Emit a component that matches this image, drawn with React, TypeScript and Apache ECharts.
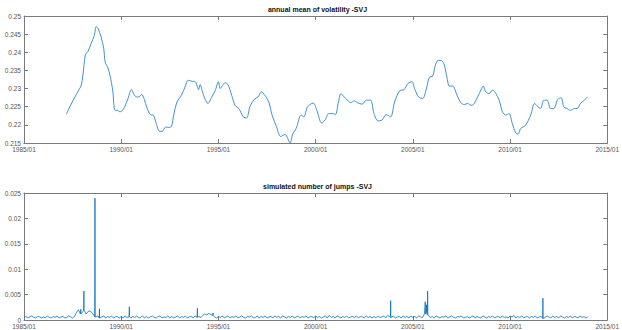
import React, { useEffect, useRef } from "react";
import * as echarts from "echarts";

// ---- annual mean of volatility (top panel) ----
const volYears = [
  1987.18, 1987.35, 1987.69, 1987.94, 1988.03, 1988.16, 1988.28, 1988.45, 1988.62, 1988.71,
  1988.81, 1988.96, 1989.1, 1989.18, 1989.3, 1989.42, 1989.56, 1989.68, 1989.81, 1989.93,
  1990.1, 1990.32, 1990.53, 1990.66, 1990.78, 1990.92, 1991.05, 1991.17, 1991.34, 1991.51,
  1991.65, 1991.8, 1991.97, 1992.11, 1992.28, 1992.45, 1992.59, 1992.7, 1992.87, 1993.1,
  1993.3, 1993.44, 1993.64, 1993.81, 1993.98, 1994.06, 1994.18, 1994.32, 1994.46, 1994.66,
  1994.83, 1995.0, 1995.09, 1995.2, 1995.34, 1995.48, 1995.68, 1995.85, 1996.05, 1996.28,
  1996.45, 1996.62, 1996.84, 1997.04, 1997.21, 1997.38, 1997.59, 1997.76, 1997.98, 1998.2,
  1998.44, 1998.57, 1998.69, 1998.83, 1999.0, 1999.25, 1999.39, 1999.59, 1999.88, 2000.05,
  2000.31, 2000.48, 2000.68, 2000.9, 2001.02, 2001.16, 2001.3, 2001.47, 2001.64, 2001.81,
  2001.98, 2002.15, 2002.39, 2002.61, 2002.83, 2003.0, 2003.21, 2003.41, 2003.63, 2003.86,
  2004.06, 2004.32, 2004.54, 2004.75, 2004.95, 2005.09, 2005.29, 2005.51, 2005.68, 2005.85,
  2006.02, 2006.16, 2006.31, 2006.48, 2006.62, 2006.75, 2006.88, 2007.05, 2007.27, 2007.47,
  2007.65, 2007.82, 2007.99, 2008.12, 2008.33, 2008.5, 2008.62, 2008.75, 2008.92, 2009.1,
  2009.27, 2009.44, 2009.61, 2009.78, 2009.95, 2010.12, 2010.29, 2010.41, 2010.55, 2010.8,
  2011.06, 2011.26, 2011.4, 2011.57, 2011.74, 2011.91, 2012.08, 2012.25, 2012.45, 2012.63,
  2012.76, 2012.93, 2013.11, 2013.31, 2013.45, 2013.62, 2013.82, 2013.99,
];
const volValues = [
  0.2229, 0.2249, 0.2284, 0.2309, 0.2337, 0.2394, 0.2401, 0.2424, 0.2447, 0.2471,
  0.2466, 0.2443, 0.2411, 0.2371, 0.236, 0.2337, 0.2296, 0.224, 0.224, 0.2236,
  0.2242, 0.2268, 0.2297, 0.2284, 0.2277, 0.2277, 0.2284, 0.2273, 0.2245, 0.2228,
  0.2227, 0.2204, 0.2182, 0.2182, 0.2194, 0.2193, 0.2196, 0.2227, 0.2263, 0.2282,
  0.2307, 0.2323, 0.232, 0.2319, 0.2297, 0.2311, 0.2291, 0.227, 0.2259, 0.2277,
  0.2294, 0.2319, 0.23, 0.2308, 0.2316, 0.2312, 0.2282, 0.2254, 0.2245, 0.2222,
  0.2219, 0.225, 0.227, 0.2277, 0.2291, 0.2282, 0.2263, 0.2227, 0.2196, 0.2168,
  0.2174, 0.2162, 0.215, 0.2176, 0.219, 0.2227, 0.2222, 0.225, 0.226, 0.2242,
  0.2205, 0.2213, 0.2231, 0.2231, 0.2228, 0.2259, 0.2286, 0.2277, 0.2268, 0.2261,
  0.2266, 0.2261, 0.2257, 0.2268, 0.2268, 0.2231, 0.2211, 0.2213, 0.2228, 0.2222,
  0.2263, 0.2294, 0.2297, 0.2314, 0.2319, 0.23, 0.2277, 0.2273, 0.2296, 0.2331,
  0.2334, 0.2365, 0.2378, 0.2377, 0.2365, 0.2332, 0.2307, 0.2307, 0.2282, 0.2261,
  0.2256, 0.2259, 0.2254, 0.2256, 0.2277, 0.2296, 0.2307, 0.2291, 0.2286, 0.2296,
  0.2286, 0.2268, 0.2236, 0.2227, 0.2231, 0.2203, 0.2178, 0.2174, 0.219, 0.2199,
  0.2227, 0.2259, 0.2252, 0.2245, 0.2268, 0.2268, 0.2245, 0.2245, 0.227, 0.2275,
  0.225, 0.2245, 0.224, 0.2245, 0.2245, 0.2259, 0.2268, 0.2277,
];

// ---- simulated number of jumps (bottom panel) ----
// baseline sampled every 0.1 year from 1985.0, values in units of 1e-4
const jumpStartYear = 1985;
const jumpStep = 0.1;
const jumpBaseE4 = [
  5, 7, 4, 6, 8, 5, 4, 7, 6, 4, // 1985
  6, 4, 8, 5, 4, 7, 5, 8, 4, 6, // 1986
  7, 4, 5, 8, 6, 4, 7, 15, 20, 12, // 1987
  15, 19, 12, 17, 18, 14, 9, 6, 8, 4, // 1988
  6, 8, 4, 7, 5, 8, 4, 6, 7, 4, // 1989
  7, 4, 8, 5, 6, 4, 7, 5, 8, 4, // 1990
  5, 8, 4, 7, 4, 6, 8, 5, 4, 7, // 1991
  8, 4, 6, 5, 8, 4, 7, 4, 6, 8, // 1992
  4, 7, 5, 8, 4, 6, 7, 4, 8, 5, // 1993
  7, 5, 9, 12, 10, 13, 11, 9, 6, 4, // 1994
  7, 5, 8, 4, 6, 8, 4, 7, 5, 8, // 1995
  4, 6, 8, 5, 4, 7, 6, 8, 4, 5, // 1996
  8, 4, 7, 5, 8, 4, 6, 7, 4, 8, // 1997
  5, 7, 4, 8, 6, 4, 7, 5, 8, 4, // 1998
  6, 8, 4, 7, 5, 8, 4, 6, 7, 4, // 1999
  8, 5, 7, 4, 6, 8, 4, 9, 5, 7, // 2000
  4, 8, 6, 4, 7, 5, 8, 4, 6, 7, // 2001
  5, 8, 4, 7, 6, 4, 8, 5, 7, 4, // 2002
  7, 4, 8, 5, 6, 8, 4, 9, 7, 5, // 2003
  8, 4, 6, 7, 4, 8, 5, 7, 4, 8, // 2004
  5, 7, 4, 8, 6, 5, 12, 15, 10, 5, // 2005
  7, 4, 8, 6, 4, 7, 5, 8, 4, 6, // 2006
  8, 5, 4, 7, 6, 8, 4, 5, 7, 4, // 2007
  6, 8, 4, 7, 5, 4, 8, 6, 4, 7, // 2008
  5, 8, 4, 6, 7, 4, 8, 5, 6, 4, // 2009
  8, 6, 9, 4, 7, 5, 8, 4, 6, 7, // 2010
  4, 7, 5, 8, 4, 6, 7, 3, 5, 8, // 2011
  6, 4, 8, 5, 7, 4, 8, 6, 4, 7, // 2012
  5, 8, 4, 7, 6, 4, 8, 5, 7, 4, // 2013
  6, // 2014
];
const jumpSpikeYears = [1987.92, 1988.08, 1988.32, 1988.65, 1988.88, 1990.42, 1993.92, 1994.72, 2003.86, 2005.64, 2005.7, 2005.76, 2011.69];
const jumpSpikeE4 = [21, 57, 18, 240, 22, 26, 23, 14, 38, 36, 30, 57, 43];

const xTickYears = [1985, 2015, 5]; // min, max, interval
const volAxis = [0.215, 0.25, 0.005];
const jumpAxis = [0, 0.025, 0.005];

const LEFT = 24;
const RIGHT = 11;
const AX = "#7a7a7a";
const LABEL = "#555555";
const FONT = "Liberation Sans";
const LINE = "#0072BD";
const SPIKE_HALF_WIDTH = 0.012; // years

export default function App() {
  const ref = useRef<HTMLDivElement>(null);
  useEffect(() => {
    if (!ref.current) return;
    const chart = echarts.init(ref.current, null, { renderer: "svg" });

    const volData = volYears.map((y, i) => [y, volValues[i]]);
    const base: number[][] = jumpBaseE4.map((v, i) => [
      +(jumpStartYear + i * jumpStep).toFixed(2),
      v / 10000,
    ]);
    const pts = base.slice();
    jumpSpikeYears.forEach((y, i) => {
      const idx = Math.round((y - jumpStartYear) / jumpStep);
      const b = base[Math.max(0, Math.min(base.length - 1, idx))][1];
      pts.push([y - SPIKE_HALF_WIDTH, b]);
      pts.push([y, jumpSpikeE4[i] / 10000]);
      pts.push([y + SPIKE_HALF_WIDTH, b]);
    });
    pts.sort((a, b) => a[0] - b[0]);

    const xFmt = (v: number) => `${v}/01`;
    const yFmt = (v: number) => String(+v.toFixed(3));

    const mkX = (grid: number, pos: "bottom" | "top") => ({
      type: "value" as const,
      gridIndex: grid,
      position: pos,
      min: xTickYears[0],
      max: xTickYears[1],
      interval: xTickYears[2],
      axisLine: { show: true, onZero: false, lineStyle: { color: AX, width: 1 } },
      axisTick: { show: true, inside: true, length: 4, lineStyle: { color: AX } },
      axisLabel: {
        show: pos === "bottom",
        formatter: xFmt,
        fontSize: 6.5,
        fontFamily: FONT,
        color: LABEL,
        margin: 3,
        showMinLabel: true,
        showMaxLabel: true,
      },
      splitLine: { show: false },
    });
    const mkY = (grid: number, pos: "left" | "right", ax: number[]) => ({
      type: "value" as const,
      gridIndex: grid,
      position: pos,
      min: ax[0],
      max: ax[1],
      interval: ax[2],
      axisLine: { show: true, onZero: false, lineStyle: { color: AX, width: 1 } },
      axisTick: { show: true, inside: true, length: 4, lineStyle: { color: AX } },
      axisLabel: {
        show: pos === "left",
        formatter: yFmt,
        fontSize: 6.5,
        fontFamily: FONT,
        color: LABEL,
        margin: 3,
        showMinLabel: true,
        showMaxLabel: true,
      },
      splitLine: { show: false },
    });

    chart.setOption({
      animation: false,
      backgroundColor: "#ffffff",
      title: [
        {
          text: "annual mean of volatility -SVJ",
          left: (LEFT + 622 - RIGHT) / 2,
          top: 6,
          textAlign: "center",
          padding: 0,
          textStyle: { fontSize: 7, fontWeight: "bold", fontFamily: FONT, color: "#111" },
        },
        {
          text: "simulated number of jumps -SVJ",
          left: (LEFT + 622 - RIGHT) / 2,
          top: 183,
          textAlign: "center",
          padding: 0,
          textStyle: { fontSize: 7, fontWeight: "bold", fontFamily: FONT, color: "#111" },
        },
      ],
      grid: [
        { left: LEFT, right: RIGHT, top: 16, height: 127 },
        { left: LEFT, right: RIGHT, top: 193, height: 127 },
      ],
      xAxis: [mkX(0, "bottom"), mkX(0, "top"), mkX(1, "bottom"), mkX(1, "top")],
      yAxis: [
        mkY(0, "left", volAxis),
        mkY(0, "right", volAxis),
        mkY(1, "left", jumpAxis),
        mkY(1, "right", jumpAxis),
      ],
      series: [
        {
          type: "line",
          xAxisIndex: 0,
          yAxisIndex: 0,
          data: volData,
          smooth: 0.3,
          showSymbol: false,
          lineStyle: { color: "#2a86c8", width: 0.9 },
        },
        {
          type: "line",
          xAxisIndex: 2,
          yAxisIndex: 2,
          data: pts,
          showSymbol: false,
          lineStyle: { color: LINE, width: 0.8 },
        },
      ],
    });
    return () => chart.dispose();
  }, []);

  return (
    <div
      ref={ref}
      style={{ position: "fixed", left: 0, top: 0, width: 622, height: 330, background: "#fff" }}
    />
  );
}
